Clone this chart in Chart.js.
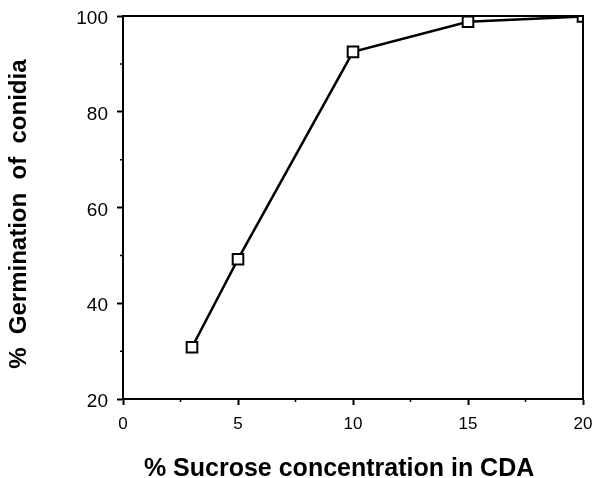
<!DOCTYPE html>
<html>
<head>
<meta charset="utf-8">
<script src="https://cdn.jsdelivr.net/npm/chart.js@4"></script>
<style>
  html, body { margin: 0; padding: 0; background: #fff; }
  #wrap { width: 597px; height: 478px; }
</style>
</head>
<body>
<div id="wrap"><canvas id="germChart"></canvas></div>
<script>
const sucrose = [3, 5, 10, 15, 20];
const germination = [30.8, 49.2, 92.5, 98.8, 99.9];
const xTicks = [0, 5, 10, 15, 20];
const yTicks = [20, 40, 60, 80, 100];

// small tick marks between the labelled ones, plus the box round the plot
const framePlugin = {
  id: "frame",
  afterDraw(chart) {
    const ctx = chart.ctx;
    const a = chart.chartArea;
    const xs = chart.scales.x;
    const ys = chart.scales.y;
    ctx.save();
    ctx.strokeStyle = "#000";
    ctx.lineWidth = 2;
    ctx.strokeRect(a.left, a.top, a.right - a.left, a.bottom - a.top);
    ctx.lineWidth = 1.5;
    ctx.beginPath();
    for (let v = 2.5; v < 20; v += 5) {
      const px = xs.getPixelForValue(v);
      ctx.moveTo(px, a.bottom);
      ctx.lineTo(px, a.bottom + 3);
    }
    for (let v = 30; v < 100; v += 20) {
      const py = ys.getPixelForValue(v);
      ctx.moveTo(a.left, py);
      ctx.lineTo(a.left - 3, py);
    }
    ctx.stroke();
    ctx.restore();
  }
};

new Chart("germChart", {
  type: "scatter",
  data: {
    datasets: [
      {
        data: sucrose.map((x, i) => ({ x: x, y: germination[i] })),
        showLine: true,
        borderColor: "#000",
        borderWidth: 2.5,
        pointStyle: "rect",
        pointRadius: 7.5,
        pointBackgroundColor: "#fff",
        pointBorderColor: "#000",
        pointBorderWidth: 2,
      },
    ],
  },
  options: {
    responsive: true,
    maintainAspectRatio: false,
    animation: false,
    layout: { padding: { top: 16, right: 14, left: 0, bottom: 0 } },
    plugins: {
      legend: { display: false },
      tooltip: { enabled: false },
    },
    scales: {
      x: {
        type: "linear",
        min: 0,
        max: 20,
        afterBuildTicks: (s) => { s.ticks = xTicks.map((v) => ({ value: v })); },
        afterFit: (s) => { s.height = 79; s.paddingLeft = 0; s.paddingRight = 0; },
        grid: { drawOnChartArea: false, tickLength: 6, tickWidth: 2, tickColor: "#000" },
        border: { color: "#000", width: 2 },
        ticks: { color: "#000", padding: 9, font: { family: "Liberation Sans", size: 17 } },
        title: {
          display: true,
          // trailing spaces nudge the centred title a little to the left, as in the original
          text: "% Sucrose concentration in CDA    ",
          color: "#000",
          font: { family: "Liberation Sans", size: 25, weight: "bold", lineHeight: 0.7 },
          padding: { top: 0, bottom: 0 },
        },
      },
      y: {
        min: 20,
        max: 100,
        afterBuildTicks: (s) => { s.ticks = yTicks.map((v) => ({ value: v })); },
        afterFit: (s) => { s.width = 123; s.paddingTop = 0; s.paddingBottom = 0; },
        grid: { drawOnChartArea: false, tickLength: 6, tickWidth: 2, tickColor: "#000" },
        border: { color: "#000", width: 2 },
        ticks: { color: "#000", padding: 9, labelOffset: 3, font: { family: "Liberation Sans", size: 19 } },
        title: {
          display: true,
          text: "%  Germination  of  conidia  ",
          color: "#000",
          font: { family: "Liberation Sans", size: 24, weight: "bold", lineHeight: 1 },
          padding: { top: 7, bottom: 0 },
        },
      },
    },
  },
  plugins: [framePlugin],
});
</script>
</body>
</html>
